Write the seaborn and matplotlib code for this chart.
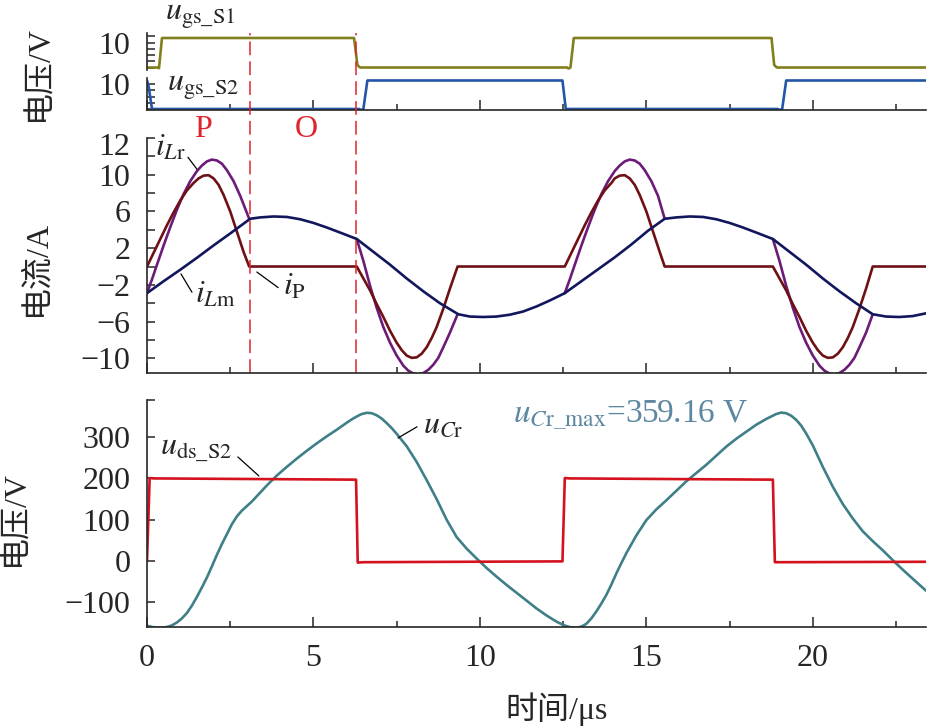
import numpy as np
import pandas as pd
import matplotlib
matplotlib.use('Agg')
import matplotlib.pyplot as plt
from matplotlib.ticker import MultipleLocator, FixedLocator
import seaborn as sns

# ---- gate signals (V) ----
t_s1 = [0, 0.32, 0.36, 0.45, 6.22, 6.32, 6.4, 12.62, 12.66, 12.72, 12.82, 18.76, 18.84, 18.92, 23.4]
u_s1 = [0, 0, -0.3, 11.8, 11.8, 1.0, 0, 0, -0.4, 0, 11.8, 11.8, 1.0, 0, 0]
t_s2 = [0, 0.05, 0.15, 6.38, 6.42, 6.5, 6.62, 12.48, 12.58, 18.95, 19.0, 19.08, 19.2, 23.4]
u_s2 = [11.4, 9.0, 0, 0, -0.5, 0, 11.4, 11.4, 0, 0, -0.4, 0, 11.4, 11.4]

# ---- magnetising current iLm (A) ----
t_lm = [0.0, 0.5, 1.0, 1.5, 2.0, 2.5, 3.1, 3.4, 3.8, 4.2, 4.6, 5.0, 5.4, 5.8, 6.3,
        6.8, 7.3, 7.8, 8.3, 8.8, 9.35, 9.7, 10.1, 10.5, 10.9, 11.3, 11.7, 12.1, 12.55,
        13.05, 13.55, 14.05, 14.55, 15.05, 15.55, 15.9, 16.3, 16.7, 17.1, 17.5, 17.9, 18.3, 18.8,
        19.3, 19.8, 20.3, 20.8, 21.3, 21.8, 22.2, 22.6, 23.0, 23.4]
i_lm = [-2.9, -1.6, -0.35, 0.95, 2.3, 3.6, 5.2, 5.35, 5.45, 5.4, 5.15, 4.75, 4.25, 3.7, 3.0,
        1.6, 0.2, -1.3, -2.7, -4.0, -5.2, -5.45, -5.5, -5.45, -5.25, -4.9, -4.35, -3.7, -2.9,
        -1.6, -0.3, 1.0, 2.4, 3.9, 5.2, 5.35, 5.45, 5.4, 5.15, 4.75, 4.25, 3.7, 3.0,
        1.6, 0.2, -1.3, -2.7, -4.0, -5.2, -5.45, -5.5, -5.4, -5.1]

# ---- primary current iP (A) ----
t_p = [0.0, 0.2, 0.4, 0.6, 0.8, 1.0, 1.2, 1.4, 1.55, 1.7, 1.85, 2.0, 2.15, 2.3, 2.5, 2.7, 2.9, 3.07,
       6.3, 6.5, 6.7, 6.9, 7.1, 7.3, 7.5, 7.65, 7.8, 7.95, 8.1, 8.25, 8.4, 8.55, 8.7, 8.9, 9.1, 9.33,
       12.55, 12.75, 12.95, 13.15, 13.35, 13.55, 13.75, 13.95, 14.05, 14.2, 14.35, 14.5, 14.65, 14.8, 15.0, 15.2, 15.4, 15.55,
       18.8, 19.0, 19.2, 19.4, 19.6, 19.8, 20.0, 20.15, 20.3, 20.45, 20.6, 20.75, 20.9, 21.05, 21.2, 21.4, 21.6, 21.8, 23.4]
i_p = [0.0, 1.5, 3.0, 4.5, 5.9, 7.2, 8.3, 9.1, 9.6, 9.9, 9.95, 9.6, 8.9, 7.8, 6.0, 3.8, 1.6, 0.0,
       0.0, -1.3, -2.6, -4.1, -5.5, -7.0, -8.3, -9.1, -9.7, -9.95, -9.9, -9.5, -8.8, -7.8, -6.6, -4.6, -2.4, 0.0,
       0.0, 1.5, 3.0, 4.5, 5.9, 7.2, 8.3, 9.1, 9.6, 9.9, 9.95, 9.6, 8.9, 7.8, 6.0, 3.8, 1.6, 0.0,
       0.0, -1.3, -2.6, -4.1, -5.5, -7.0, -8.3, -9.1, -9.7, -9.95, -9.9, -9.5, -8.8, -7.8, -6.6, -4.6, -2.4, 0.0, 0.0]

# ---- resonant current iLr (A), resonant pulses (elsewhere it sits on iLm) ----
t_lr1 = [0.0, 0.15, 0.3, 0.5, 0.7, 0.9, 1.1, 1.3, 1.5, 1.65, 1.8, 1.95, 2.1, 2.25, 2.4, 2.6, 2.8, 3.07]
i_lr1 = [-2.9, -1.4, 0.2, 2.3, 4.3, 6.2, 7.9, 9.3, 10.4, 11.0, 11.45, 11.65, 11.55, 11.2, 10.5, 9.3, 7.7, 5.2]
t_lr2 = [6.3, 6.5, 6.7, 6.9, 7.1, 7.3, 7.5, 7.7, 7.85, 8.0, 8.15, 8.3, 8.45, 8.6, 8.75, 8.9, 9.1, 9.33]
i_lr2 = [3.0, 0.6, -2.1, -4.5, -6.6, -8.3, -9.7, -10.8, -11.35, -11.65, -11.75, -11.6, -11.25, -10.7, -9.95, -8.8, -7.2, -5.2]
t_lr3 = [12.55, 12.7, 12.85, 13.05, 13.25, 13.45, 13.65, 13.85, 14.05, 14.2, 14.35, 14.5, 14.65, 14.8, 14.95, 15.15, 15.35, 15.55]
i_lr3 = [-2.9, -1.4, 0.2, 2.3, 4.3, 6.2, 7.9, 9.3, 10.4, 11.0, 11.45, 11.65, 11.55, 11.2, 10.5, 9.3, 7.7, 5.2]
t_lr4 = [18.8, 19.0, 19.2, 19.4, 19.6, 19.8, 20.0, 20.2, 20.35, 20.5, 20.65, 20.8, 20.95, 21.1, 21.25, 21.4, 21.6, 21.8]
i_lr4 = [3.0, 0.6, -2.1, -4.5, -6.6, -8.3, -9.7, -10.8, -11.35, -11.65, -11.75, -11.6, -11.25, -10.7, -9.95, -8.8, -7.2, -5.2]

# ---- drain-source voltage uds_S2 (V) ----
t_ds = [0, 0.08, 0.2, 6.28, 6.33, 6.5, 12.48, 12.55, 12.7, 18.8, 18.86, 19.0, 23.4]
u_ds = [0, 201, 200, 197, -4, -3, -1, 201, 200, 197, -3, -3, -2]

# ---- resonant capacitor voltage uCr (V) ----
t_cr = [0.0, 0.15, 0.3, 0.45, 0.6, 0.75, 0.9, 1.05, 1.2, 1.35, 1.5, 1.65, 1.8, 1.95, 2.1, 2.25,
        2.4, 2.55, 2.7, 2.85, 3.0, 3.15, 3.3, 3.45, 3.6, 3.9, 4.2, 4.5, 4.8, 5.1, 5.4, 5.7, 6.0,
        6.15, 6.3, 6.45, 6.6, 6.75, 6.9, 7.05, 7.2, 7.35, 7.5, 7.8, 8.1, 8.4, 8.7, 9.0, 9.3,
        9.6, 9.9, 10.2, 10.5, 10.8, 11.1, 11.4, 11.7, 12.0, 12.3, 12.45, 12.6, 12.75, 12.9, 13.05,
        13.2, 13.35, 13.5, 13.65, 13.8, 13.95, 14.1, 14.25, 14.4, 14.7, 15.0, 15.3, 15.6, 15.9,
        16.2, 16.5, 16.8, 17.1, 17.4, 17.7, 18.0, 18.3, 18.6, 18.75, 18.9, 19.05, 19.2, 19.35,
        19.5, 19.65, 19.8, 20.0, 20.3, 20.6, 20.9, 21.2, 21.5, 21.8, 22.1, 22.4, 22.7, 23.0, 23.4]
u_cr = [-157, -160, -161.5, -161.5, -160, -156, -149, -139, -126, -108, -87, -64, -40, -13, 15, 41,
        65, 89, 108, 122, 133, 144, 157, 170, 183, 207, 228, 248, 267, 285, 302, 318, 335,
        343, 350, 356, 359, 358, 353, 345, 334, 322, 308, 278, 240, 196, 150, 100, 58,
        30, 6, -17, -38, -58, -77, -96, -115, -132, -147, -153, -158, -161, -161.5, -159,
        -152, -139, -122, -103, -82, -57, -30, -5, 19, 62, 99, 125, 147, 170,
        193, 213, 233, 255, 277, 296, 313, 330, 344, 350, 356, 359.5, 358, 352,
        342, 328, 309, 280, 228, 180, 138, 103, 72, 48, 26, 2, -21, -43, -72]

t_dash = [3.1, 6.28]

c_s1, c_s2 = '#80801e', '#2356a6'
c_lr, c_p, c_lm = '#6c1c78', '#6e1014', '#12165c'
c_ds, c_cr = '#d4121e', '#3f8088'
c_red, c_max = '#e0242e', '#5c88a2'

sns.set_style('ticks')
plt.rcParams['font.family'] = ['Liberation Serif', 'Noto Sans CJK SC']
plt.rcParams['mathtext.fontset'] = 'stix'
plt.rcParams['axes.linewidth'] = 1.2

W, H = 927, 728
fig = plt.figure(figsize=(W / 100, H / 100), dpi=100)


def box(top, bottom):
    return [147 / W, 1 - bottom / H, 779 / W, (bottom - top) / H]


ax1 = fig.add_axes(box(33, 70))
ax2 = fig.add_axes(box(78, 110))
ax3 = fig.add_axes(box(138, 373))
ax4 = fig.add_axes(box(400, 627))

lw = 1.9
sns.lineplot(x=t_s1, y=u_s1, ax=ax1, color=c_s1, lw=lw, estimator=None, sort=False)
sns.lineplot(x=t_s2, y=u_s2, ax=ax2, color=c_s2, lw=lw, estimator=None, sort=False)

lr = pd.DataFrame({
    't': t_lr1 + t_lr2 + t_lr3 + t_lr4,
    'i': i_lr1 + i_lr2 + i_lr3 + i_lr4,
    'pulse': [1] * len(t_lr1) + [2] * len(t_lr2) + [3] * len(t_lr3) + [4] * len(t_lr4),
})
sns.lineplot(data=lr, x='t', y='i', units='pulse', estimator=None, sort=False,
             ax=ax3, color=c_lr, lw=lw)
sns.lineplot(x=t_p, y=i_p, ax=ax3, color=c_p, lw=lw, estimator=None, sort=False)
sns.lineplot(x=t_lm, y=i_lm, ax=ax3, color=c_lm, lw=lw, estimator=None, sort=False)

sns.lineplot(x=t_cr, y=u_cr, ax=ax4, color=c_cr, lw=lw, estimator=None, sort=False)
sns.lineplot(x=t_ds, y=u_ds, ax=ax4, color=c_ds, lw=lw, estimator=None, sort=False)

ax1.set_ylim(-1.0, 13.8)
ax2.set_ylim(-0.4, 12.4)
ax3.set_ylim(-11.6, 14)
ax4.set_ylim(-160, 390)

for ax in (ax1, ax2, ax3, ax4):
    ax.set_xlim(0, 23.4)
    ax.set_xlabel('')
    ax.set_ylabel('')
    sns.despine(ax=ax)
    ax.xaxis.set_major_locator(MultipleLocator(5))
    ax.xaxis.set_minor_locator(MultipleLocator(2.5))
    ax.tick_params(which='both', direction='in', labelsize=23, width=1.1, pad=12)
    ax.tick_params(axis='x', which='major', length=7)
    ax.tick_params(axis='x', which='minor', length=4.5)
    ax.tick_params(axis='y', which='both', length=5.5)

ax1.spines['bottom'].set_visible(False)
ax1.tick_params(axis='x', which='both', bottom=False, labelbottom=False)
for ax in (ax2, ax3):
    ax.tick_params(axis='x', which='both', labelbottom=False)

for ax in (ax1, ax2):
    ax.yaxis.set_major_locator(FixedLocator([10]))
    ax.yaxis.set_minor_locator(FixedLocator([0, 2.5, 5, 7.5, 12.5]))

ax3.yaxis.set_major_locator(FixedLocator([-10, -6, -2, 2, 6, 10, 13.3]))
ax3.set_yticklabels(['\u221210', '\u22126', '\u22122', '2', '6', '10', '12'])
ax3.yaxis.get_major_ticks()[-1].tick1line.set_visible(False)
ax3.yaxis.set_minor_locator(FixedLocator([-8, -4, 0, 4, 8, 12, 14]))

ax4.yaxis.set_major_locator(FixedLocator([-100, 0, 100, 200, 300]))
ax4.yaxis.set_minor_locator(FixedLocator([390]))

# P / O interval boundaries, through the gate and current panels
for td in t_dash:
    ax3.axvline(td, ymin=0, ymax=(373 - 33) / (373 - 138), color=c_red, lw=1.1,
                dashes=(9, 4), clip_on=False)
ax3.text(1.68, 14.1, 'P', color=c_red, fontsize=23, ha='center', va='baseline')
ax3.text(4.8, 14.1, 'O', color=c_red, fontsize=23, ha='center', va='baseline')

# curve labels
fs = 23
ax1.text(0.54, 19.0, r'$u_{\mathrm{gs\_S1}}$', fontsize=fs, va='baseline')
ax2.text(0.6, 7.2, r'$u_{\mathrm{gs\_S2}}$', fontsize=fs, va='baseline')
ax3.text(0.24, 12.1, r'$i_{L\mathrm{r}}$', fontsize=fs, va='baseline')
ax3.text(1.44, -3.9, r'$i_{L\mathrm{m}}$', fontsize=fs, va='baseline')
ax3.text(4.08, -3.1, r'$i_{\mathrm{P}}$', fontsize=fs, va='baseline')
ax4.text(0.39, 257, r'$u_{\mathrm{ds\_S2}}$', fontsize=fs, va='baseline')
ax4.text(8.3, 310, r'$u_{C\mathrm{r}}$', fontsize=fs, va='baseline')
ax4.text(10.99, 336, r'$u_{C\mathrm{r\_max}}$=359.16 V', fontsize=24, color=c_max, va='baseline')

leader = dict(color='black', lw=0.9, clip_on=False)
ax3.plot([1.23, 1.50], [11.9, 10.6], **leader)
ax3.plot([1.35, 1.02], [-2.8, -0.8], **leader)
ax3.plot([3.94, 3.30], [-2.3, -0.6], **leader)
ax4.plot([2.73, 3.36], [252, 206], **leader)
ax4.plot([7.54, 8.11], [298, 325], **leader)

fig.text(40 / W, 1 - 73 / H, '电压/V', rotation=90, fontsize=23, ha='center', va='center')
fig.text(37 / W, 1 - 268 / H, '电流/A', rotation=90, fontsize=23, ha='center', va='center')
fig.text(16 / W, 1 - 518 / H, '电压/V', rotation=90, fontsize=23, ha='center', va='center')
ax4.set_xlabel('时间/μs', fontsize=23)
ax4.xaxis.set_label_coords((557 - 147) / 779, (627 - 692) / 227)

fig.savefig('out.png', dpi=100)
